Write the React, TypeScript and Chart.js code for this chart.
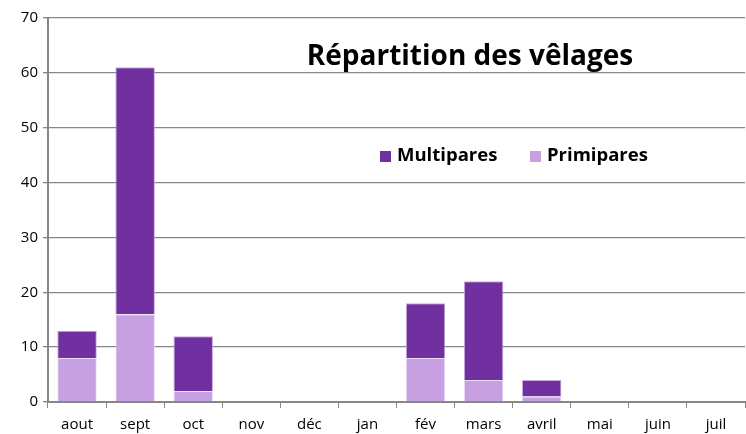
import React, { useEffect, useRef } from "react";
import { Chart, registerables } from "chart.js";

Chart.register(...registerables);

const categories = ["aout", "sept", "oct", "nov", "déc", "jan", "fév", "mars", "avril", "mai", "juin", "juil"];
const primipares = [8, 16, 2, 0, 0, 0, 8, 4, 1, 0, 0, 0];
const multipares = [5, 45, 10, 0, 0, 0, 10, 18, 3, 0, 0, 0];
const title = "Répartition des vêlages";
const seriesNames = ["Multipares", "Primipares"];

const DARK = "#7030A0";
const LIGHT = "#C6A0E0";
const FONT = "'Open Sans', 'Liberation Sans', sans-serif";

const overlayPlugin = {
  id: "overlay",
  afterDraw(chart: any) {
    const ctx = chart.ctx;
    ctx.save();
    ctx.fillStyle = "#000";
    ctx.font = `bold 28px ${FONT}`;
    ctx.textAlign = "center";
    ctx.textBaseline = "alphabetic";
    ctx.fillText(title, 470, 65);
    ctx.font = `bold 18.5px ${FONT}`;
    ctx.textAlign = "left";
    ctx.textBaseline = "middle";
    const items = [
      { x: 380, color: DARK, label: seriesNames[0] },
      { x: 530, color: LIGHT, label: seriesNames[1] },
    ];
    for (const it of items) {
      ctx.fillStyle = it.color;
      ctx.fillRect(it.x, 151, 11, 11);
      ctx.fillStyle = "#000";
      ctx.fillText(it.label, it.x + 17, 156);
    }
    ctx.restore();
  },
};

export default function App() {
  const ref = useRef<HTMLCanvasElement>(null);
  useEffect(() => {
    document.body.style.margin = "0";
    const chart = new Chart(ref.current!, {
      type: "bar",
      data: {
        labels: categories,
        datasets: [
          {
            label: seriesNames[1],
            data: primipares,
            backgroundColor: LIGHT,
            borderColor: "rgba(235,220,245,1)",
            borderWidth: 1,
            categoryPercentage: 1,
            barPercentage: 0.68,
          },
          {
            label: seriesNames[0],
            data: multipares,
            backgroundColor: DARK,
            borderColor: "rgba(200,170,225,1)",
            borderWidth: 1,
            categoryPercentage: 1,
            barPercentage: 0.68,
          },
        ],
      },
      options: {
        animation: false,
        responsive: false,
        maintainAspectRatio: false,
        layout: { padding: { top: 18, right: 1, left: 0, bottom: 0 } },
        plugins: { legend: { display: false }, tooltip: { enabled: false }, title: { display: false } },
        scales: {
          x: {
            stacked: true,
            grid: { drawOnChartArea: false, tickLength: 6, color: "#868686", offset: true },
            border: { color: "#868686", width: 2 },
            ticks: { color: "#000", font: { family: FONT, size: 15 }, padding: 8, maxRotation: 0, autoSkip: false },
            afterFit(scale: any) {
              scale.height = 32;
            },
          },
          y: {
            stacked: true,
            min: 0,
            max: 70,
            ticks: { stepSize: 10, color: "#000", font: { family: FONT, size: 15 }, padding: 5 },
            grid: { color: "#868686", tickLength: 5, lineWidth: 1.3 },
            border: { color: "#868686", width: 2 },
            afterFit(scale: any) {
              scale.width = 48;
            },
          },
        },
      },
      plugins: [overlayPlugin],
    });
    return () => chart.destroy();
  }, []);
  return (
    <div style={{ position: "absolute", left: 0, top: 0, width: 746, height: 434, background: "#fff" }}>
      <canvas ref={ref} width={746} height={434} />
    </div>
  );
}
